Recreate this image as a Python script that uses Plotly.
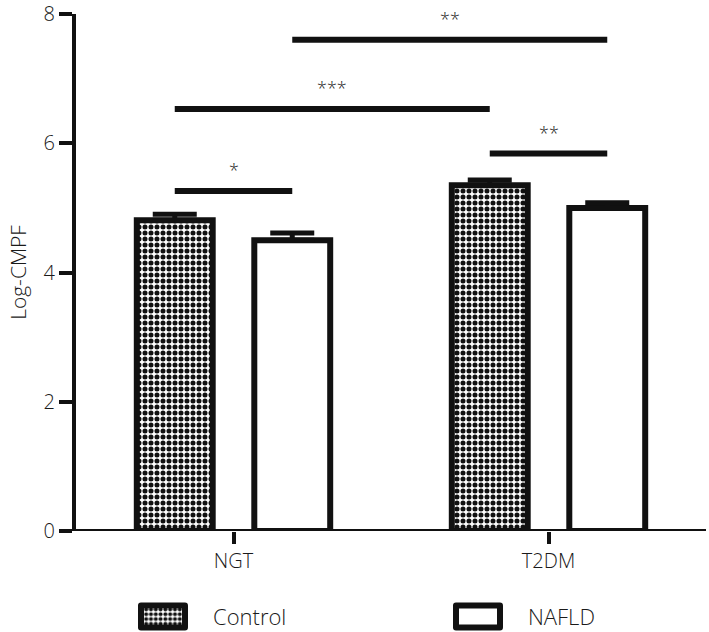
import plotly.graph_objects as go

groups = ["NGT", "T2DM"]
series_names = ["Control", "NAFLD"]
control_vals = [4.81, 5.35]
nafld_vals = [4.50, 5.00]
control_err = [0.09, 0.08]
nafld_err = [0.11, 0.08]
y_ticks = [0, 2, 4, 6, 8]

# comparisons: (group_a, series_a, group_b, series_b, level, label)
comparisons = [
    (0, 0, 0, 1, 5.26, "*"),
    (0, 0, 1, 0, 6.53, "***"),
    (0, 1, 1, 1, 7.60, "**"),
    (1, 0, 1, 1, 5.84, "**"),
]

FONT = "Open Sans"
TXT = "#1a1a1a"
bargap = 0.254
slot = (1 - bargap) / 2
offsets = [-slot / 2, slot / 2]

fig = go.Figure()
fig.add_trace(go.Bar(
    name=series_names[0], x=groups, y=control_vals, legend="legend",
    error_y=dict(type="data", array=control_err, arrayminus=[0, 0], symmetric=False,
                 color="#111", thickness=5, width=22),
    marker=dict(color="white", line=dict(color="#111", width=6),
                pattern=dict(shape=".", fgcolor="#111", bgcolor="white", size=6, solidity=0.55,
                             fillmode="replace")),
))
fig.add_trace(go.Bar(
    name=series_names[1], x=groups, y=nafld_vals, legend="legend2",
    error_y=dict(type="data", array=nafld_err, arrayminus=[0, 0], symmetric=False,
                 color="#111", thickness=5, width=22),
    marker=dict(color="white", line=dict(color="#111", width=6)),
))

for ga, sa, gb, sb, lvl, lab in comparisons:
    xa = ga + offsets[sa]
    xb = gb + offsets[sb]
    fig.add_shape(type="line", x0=xa, x1=xb, y0=lvl, y1=lvl, xref="x", yref="y",
                  line=dict(color="#111", width=6))
    fig.add_annotation(x=(xa + xb) / 2, y=lvl, text=lab, showarrow=False, yshift=21,
                       font=dict(family=FONT, size=18, color=TXT, weight=300))

# x axis baseline extended left to tick length
fig.add_shape(type="line", x0=-0.019, x1=1.0, y0=0, y1=0, xref="paper", yref="y",
              line=dict(color="#111", width=4))

leg_font = dict(family=FONT, size=22, color=TXT, weight=300)
fig.update_layout(
    width=709, height=632,
    margin=dict(l=76, r=3, t=14, b=101, autoexpand=False),
    paper_bgcolor="white", plot_bgcolor="white",
    barmode="group", bargap=bargap, bargroupgap=0.354,
    font=dict(family=FONT, color=TXT),
    showlegend=True,
    legend=dict(orientation="h", x=0.0587, y=-0.166, xanchor="left", yanchor="middle",
                itemwidth=90, font=leg_font, bgcolor="rgba(0,0,0,0)"),
    legend2=dict(orientation="h", x=0.5587, y=-0.166, xanchor="left", yanchor="middle",
                 itemwidth=90, font=leg_font, bgcolor="rgba(0,0,0,0)"),
)
fig.update_xaxes(range=[-0.5, 1.5], showline=False, showgrid=False, zeroline=False,
                 ticks="outside", ticklen=12, tickwidth=4, tickcolor="#111",
                 tickfont=dict(family=FONT, size=20, color=TXT, weight=300))
fig.update_yaxes(range=[0, 8], tickvals=y_ticks, showline=True, linewidth=4, linecolor="#111",
                 showgrid=False, zeroline=False, ticks="outside", ticklen=13, tickwidth=4,
                 tickcolor="#111", tickfont=dict(family=FONT, size=20, color=TXT, weight=300),
                 title=dict(text="Log-CMPF", font=dict(family=FONT, size=21, color=TXT, weight=300),
                            standoff=12))

# enlarge the legend swatches to the reference's wide rectangles
post = (
    "document.body.style.margin='0';document.body.style.overflow='hidden';"
    "document.querySelectorAll('.legendpoints path').forEach(function(p){"
    "p.setAttribute('d','M22,11H-22V-11H22Z');p.style.strokeWidth='6px';p.style.strokeLinejoin='round';});"
)
fig.write_html("out.html", config={"displayModeBar": False}, post_script=post)
